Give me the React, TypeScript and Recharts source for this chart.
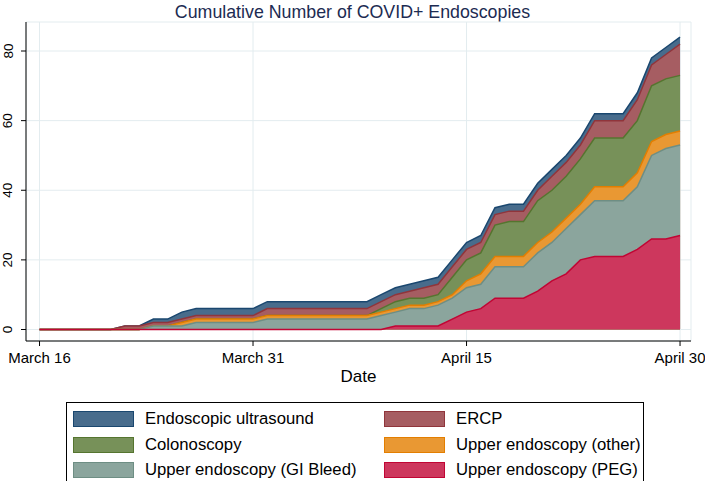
import { AreaChart, Area, XAxis, YAxis, CartesianGrid } from 'recharts'

// one entry per day, March 16 .. April 30
const dates = [
    'Mar 16', 'Mar 17', 'Mar 18', 'Mar 19', 'Mar 20', 'Mar 21', 'Mar 22', 'Mar 23', 'Mar 24', 'Mar 25',
    'Mar 26', 'Mar 27', 'Mar 28', 'Mar 29', 'Mar 30', 'Mar 31', 'Apr 1', 'Apr 2', 'Apr 3', 'Apr 4',
    'Apr 5', 'Apr 6', 'Apr 7', 'Apr 8', 'Apr 9', 'Apr 10', 'Apr 11', 'Apr 12', 'Apr 13', 'Apr 14',
    'Apr 15', 'Apr 16', 'Apr 17', 'Apr 18', 'Apr 19', 'Apr 20', 'Apr 21', 'Apr 22', 'Apr 23', 'Apr 24',
    'Apr 25', 'Apr 26', 'Apr 27', 'Apr 28', 'Apr 29', 'Apr 30',
]
const tickDays = [0, 15, 30, 45]
const tickLabels = ['March 16', 'March 31', 'April 15', 'April 30']
const yTicks = [0, 20, 40, 60, 80]

// cumulative counts per procedure
const peg = [0, 0, 0, 0, 0, 0, 0, 0, 0, 0, 0, 0, 0, 0, 0, 0, 0, 0, 0, 0, 0, 0, 0, 0, 0, 1, 1, 1, 1, 3, 5, 6, 9, 9, 9, 11, 14, 16, 20, 21, 21, 21, 23, 26, 26, 27]
const giBleed = [0, 0, 0, 0, 0, 0, 0, 0, 1, 1, 1, 2, 2, 2, 2, 2, 3, 3, 3, 3, 3, 3, 3, 3, 4, 4, 5, 5, 6, 6, 7, 7, 9, 9, 9, 11, 11, 13, 13, 16, 16, 16, 18, 24, 26, 26]
const upperOther = [0, 0, 0, 0, 0, 0, 0, 0, 0, 0, 1, 1, 1, 1, 1, 1, 1, 1, 1, 1, 1, 1, 1, 1, 1, 1, 1, 1, 1, 1, 2, 3, 3, 3, 3, 3, 3, 3, 3, 4, 4, 4, 4, 4, 4, 4]
const colonoscopy = [0, 0, 0, 0, 0, 0, 0, 0, 0, 0, 0, 0, 0, 0, 0, 0, 0, 0, 0, 0, 0, 0, 0, 0, 1, 2, 2, 2, 2, 5, 6, 6, 9, 10, 10, 12, 12, 12, 13, 14, 14, 14, 15, 16, 16, 16]
const ercp = [0, 0, 0, 0, 0, 0, 1, 1, 1, 1, 1, 1, 1, 1, 1, 1, 2, 2, 2, 2, 2, 2, 2, 2, 2, 2, 2, 3, 3, 3, 3, 3, 3, 3, 3, 3, 4, 4, 4, 5, 5, 5, 6, 6, 7, 9]
const eus = [0, 0, 0, 0, 0, 0, 0, 0, 1, 1, 2, 2, 2, 2, 2, 2, 2, 2, 2, 2, 2, 2, 2, 2, 2, 2, 2, 2, 2, 2, 2, 2, 2, 2, 2, 2, 2, 2, 2, 2, 2, 2, 2, 2, 2, 2]

// stacked tops, so the layers can be drawn from the tallest down
const data = dates.map((date, i) => {
    const t1 = peg[i]
    const t2 = t1 + giBleed[i]
    const t3 = t2 + upperOther[i]
    const t4 = t3 + colonoscopy[i]
    const t5 = t4 + ercp[i]
    const t6 = t5 + eus[i]
    return { day: i, date, peg: t1, gi: t2, other: t3, colon: t4, ercp: t5, eus: t6 }
})

// stata s2color, fills at 80% on white
const SERIES = [
    { key: 'eus', name: 'Endoscopic ultrasound', stroke: '#1a476f', fill: '#486c8c' },
    { key: 'ercp', name: 'ERCP', stroke: '#90353b', fill: '#a65d62' },
    { key: 'colon', name: 'Colonoscopy', stroke: '#55752f', fill: '#779159' },
    { key: 'other', name: 'Upper endoscopy (other)', stroke: '#e37e00', fill: '#e99833' },
    { key: 'gi', name: 'Upper endoscopy (GI Bleed)', stroke: '#6e8e84', fill: '#8ba59d' },
    { key: 'peg', name: 'Upper endoscopy (PEG)', stroke: '#c10534', fill: '#cd375d' },
]

const FONT = "'Liberation Sans', Arial, Helvetica, sans-serif"

function YTick({ y, payload }: any) {
    return (
        <text x={8} y={y} transform={`rotate(-90 8 ${y})`} textAnchor="middle" dominantBaseline="central"
            fontSize={13.5} fontFamily={FONT} fill="#000">
            {payload.value}
        </text>
    )
}

function XTick({ x, payload }: any) {
    const idx = tickDays.indexOf(payload.value)
    return (
        <text x={x} y={357} textAnchor="middle" dominantBaseline="central" fontSize={15} fontFamily={FONT} fill="#000">
            {tickLabels[idx]}
        </text>
    )
}

function LegendBox() {
    return (
        <div style={{
            position: 'absolute', left: 66, top: 402, width: 578, height: 80, border: '1px solid #000',
            boxSizing: 'border-box', fontFamily: FONT, fontSize: 16.7, color: '#000',
            display: 'grid', gridTemplateColumns: '311px 1fr', rowGap: 7, paddingTop: 8, paddingLeft: 6,
        }}>
            {SERIES.map(s => (
                <div key={s.key} style={{ display: 'flex', alignItems: 'center', height: 16 }}>
                    <div style={{
                        width: 61, height: 16, background: s.fill, border: `1.5px solid ${s.stroke}`,
                        boxSizing: 'border-box', marginRight: 11,
                    }} />
                    <span>{s.name}</span>
                </div>
            ))}
        </div>
    )
}

export default function App() {
    return (
        <div style={{ position: 'absolute', left: 0, top: 0, width: 705, height: 481, background: '#fff' }}>
            <div style={{
                position: 'absolute', top: 2, left: 0, width: 705, textAlign: 'center',
                fontFamily: FONT, fontSize: 17.8, lineHeight: '20px', color: '#1c2b52',
            }}>
                Cumulative Number of COVID+ Endoscopies
            </div>
            <AreaChart width={705} height={391} data={data} margin={{ top: 22, right: 14, left: 0, bottom: 0 }}>
                <CartesianGrid stroke="#e3ecef" strokeWidth={1} />
                <XAxis
                    dataKey="day"
                    type="number"
                    domain={[-0.95, 45.77]}
                    allowDataOverflow
                    ticks={tickDays}
                    interval={0}
                    height={50}
                    tickSize={5}
                    axisLine={{ stroke: '#000' }}
                    tickLine={{ stroke: '#000' }}
                    tick={<XTick />}
                />
                <YAxis
                    type="number"
                    domain={[-3.3, 88.33]}
                    allowDataOverflow
                    ticks={yTicks}
                    interval={0}
                    width={26}
                    tickSize={5}
                    axisLine={{ stroke: '#000' }}
                    tickLine={{ stroke: '#000' }}
                    tick={<YTick />}
                />
                {SERIES.map(s => (
                    <Area
                        key={s.key}
                        dataKey={s.key}
                        name={s.name}
                        type="linear"
                        baseValue={0}
                        stroke={s.stroke}
                        strokeWidth={1.5}
                        fill={s.fill}
                        fillOpacity={1}
                        dot={false}
                        activeDot={false}
                        isAnimationActive={false}
                    />
                ))}
            </AreaChart>
            <div style={{
                position: 'absolute', top: 367, left: 26, width: 665, textAlign: 'center',
                fontFamily: FONT, fontSize: 17, lineHeight: '20px', color: '#000',
            }}>
                Date
            </div>
            <LegendBox />
        </div>
    )
}
